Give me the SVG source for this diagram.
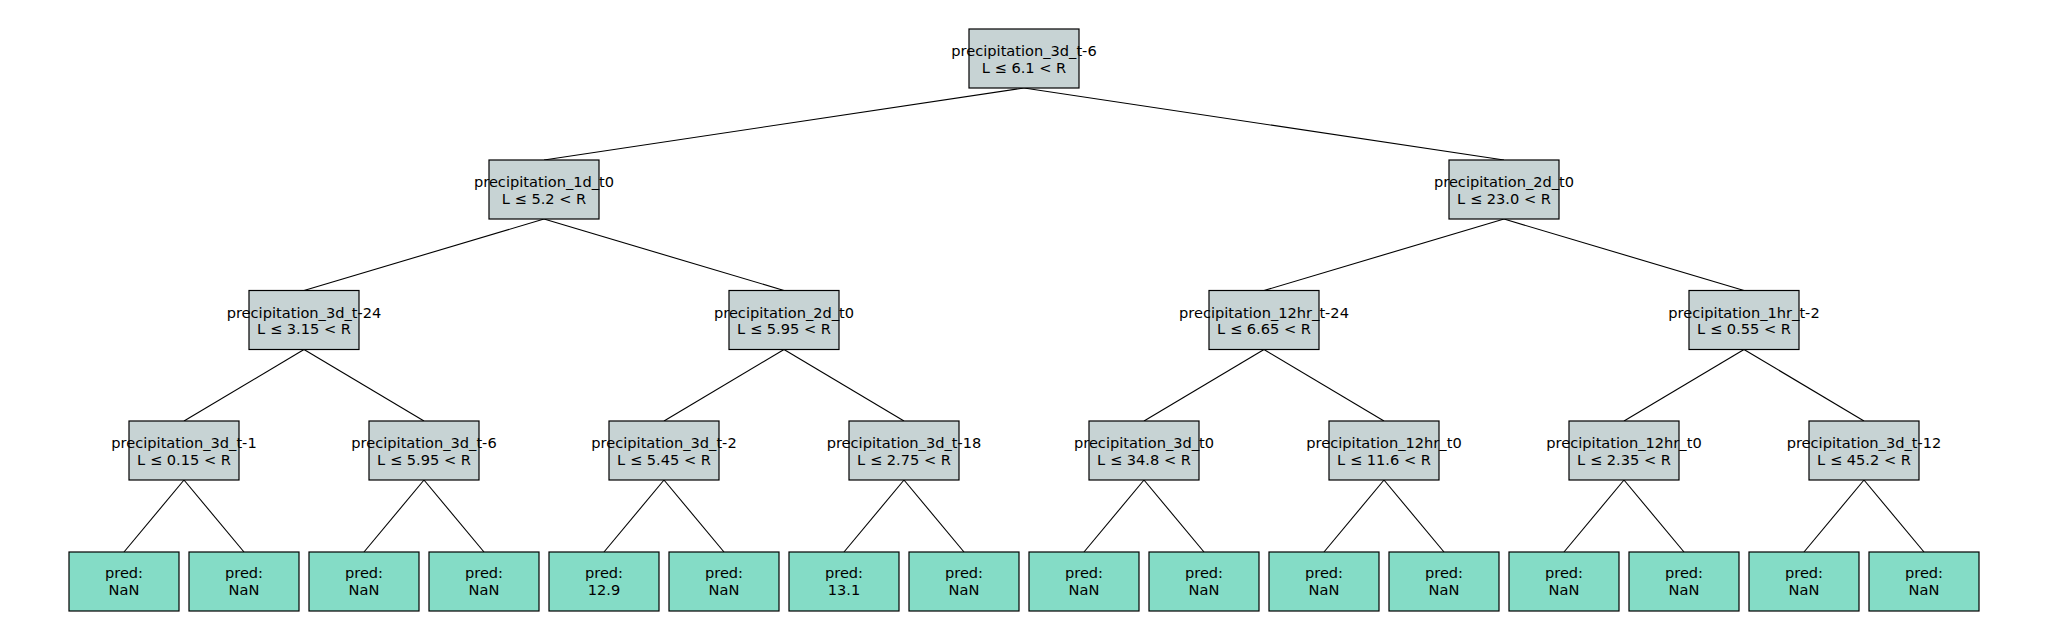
<svg xmlns="http://www.w3.org/2000/svg" width="2048" height="640" viewBox="0 0 2048 640">
<style>
.bg{fill:#ffffff}
.split rect{fill:#c7d3d4;stroke:#000000;stroke-width:1.2}
.leaf rect{fill:#84dcc6;stroke:#000000;stroke-width:1.2}
text{font-family:"DejaVu Sans",sans-serif;font-size:14.6px;fill:#000000;text-anchor:middle}
#edges line{stroke:#000000;stroke-width:1.1}
</style>
<rect class="bg" width="2048" height="640"/>
<g id="edges">
<line x1="1024" y1="88" x2="544" y2="160"/>
<line x1="1024" y1="88" x2="1504" y2="160"/>
<line x1="544" y1="219" x2="304" y2="290.5"/>
<line x1="544" y1="219" x2="784" y2="290.5"/>
<line x1="1504" y1="219" x2="1264" y2="290.5"/>
<line x1="1504" y1="219" x2="1744" y2="290.5"/>
<line x1="304" y1="349.5" x2="184" y2="421"/>
<line x1="304" y1="349.5" x2="424" y2="421"/>
<line x1="784" y1="349.5" x2="664" y2="421"/>
<line x1="784" y1="349.5" x2="904" y2="421"/>
<line x1="1264" y1="349.5" x2="1144" y2="421"/>
<line x1="1264" y1="349.5" x2="1384" y2="421"/>
<line x1="1744" y1="349.5" x2="1624" y2="421"/>
<line x1="1744" y1="349.5" x2="1864" y2="421"/>
<line x1="184" y1="480" x2="124" y2="552"/>
<line x1="184" y1="480" x2="244" y2="552"/>
<line x1="424" y1="480" x2="364" y2="552"/>
<line x1="424" y1="480" x2="484" y2="552"/>
<line x1="664" y1="480" x2="604" y2="552"/>
<line x1="664" y1="480" x2="724" y2="552"/>
<line x1="904" y1="480" x2="844" y2="552"/>
<line x1="904" y1="480" x2="964" y2="552"/>
<line x1="1144" y1="480" x2="1084" y2="552"/>
<line x1="1144" y1="480" x2="1204" y2="552"/>
<line x1="1384" y1="480" x2="1324" y2="552"/>
<line x1="1384" y1="480" x2="1444" y2="552"/>
<line x1="1624" y1="480" x2="1564" y2="552"/>
<line x1="1624" y1="480" x2="1684" y2="552"/>
<line x1="1864" y1="480" x2="1804" y2="552"/>
<line x1="1864" y1="480" x2="1924" y2="552"/>
</g>
<g id="n0" class="split"><rect x="969" y="29" width="110" height="59"/><text x="1024" y="56">precipitation_3d_t-6</text><text x="1024" y="72.5">L ≤ 6.1 &lt; R</text></g>
<g id="n1" class="split"><rect x="489" y="160" width="110" height="59"/><text x="544" y="187">precipitation_1d_t0</text><text x="544" y="203.5">L ≤ 5.2 &lt; R</text></g>
<g id="n2" class="split"><rect x="1449" y="160" width="110" height="59"/><text x="1504" y="187">precipitation_2d_t0</text><text x="1504" y="203.5">L ≤ 23.0 &lt; R</text></g>
<g id="n3" class="split"><rect x="249" y="290.5" width="110" height="59"/><text x="304" y="317.5">precipitation_3d_t-24</text><text x="304" y="334">L ≤ 3.15 &lt; R</text></g>
<g id="n4" class="split"><rect x="729" y="290.5" width="110" height="59"/><text x="784" y="317.5">precipitation_2d_t0</text><text x="784" y="334">L ≤ 5.95 &lt; R</text></g>
<g id="n5" class="split"><rect x="1209" y="290.5" width="110" height="59"/><text x="1264" y="317.5">precipitation_12hr_t-24</text><text x="1264" y="334">L ≤ 6.65 &lt; R</text></g>
<g id="n6" class="split"><rect x="1689" y="290.5" width="110" height="59"/><text x="1744" y="317.5">precipitation_1hr_t-2</text><text x="1744" y="334">L ≤ 0.55 &lt; R</text></g>
<g id="n7" class="split"><rect x="129" y="421" width="110" height="59"/><text x="184" y="448">precipitation_3d_t-1</text><text x="184" y="464.5">L ≤ 0.15 &lt; R</text></g>
<g id="n8" class="split"><rect x="369" y="421" width="110" height="59"/><text x="424" y="448">precipitation_3d_t-6</text><text x="424" y="464.5">L ≤ 5.95 &lt; R</text></g>
<g id="n9" class="split"><rect x="609" y="421" width="110" height="59"/><text x="664" y="448">precipitation_3d_t-2</text><text x="664" y="464.5">L ≤ 5.45 &lt; R</text></g>
<g id="n10" class="split"><rect x="849" y="421" width="110" height="59"/><text x="904" y="448">precipitation_3d_t-18</text><text x="904" y="464.5">L ≤ 2.75 &lt; R</text></g>
<g id="n11" class="split"><rect x="1089" y="421" width="110" height="59"/><text x="1144" y="448">precipitation_3d_t0</text><text x="1144" y="464.5">L ≤ 34.8 &lt; R</text></g>
<g id="n12" class="split"><rect x="1329" y="421" width="110" height="59"/><text x="1384" y="448">precipitation_12hr_t0</text><text x="1384" y="464.5">L ≤ 11.6 &lt; R</text></g>
<g id="n13" class="split"><rect x="1569" y="421" width="110" height="59"/><text x="1624" y="448">precipitation_12hr_t0</text><text x="1624" y="464.5">L ≤ 2.35 &lt; R</text></g>
<g id="n14" class="split"><rect x="1809" y="421" width="110" height="59"/><text x="1864" y="448">precipitation_3d_t-12</text><text x="1864" y="464.5">L ≤ 45.2 &lt; R</text></g>
<g id="l0" class="leaf"><rect x="69" y="552" width="110" height="59"/><text x="124" y="578">pred:</text><text x="124" y="594.5">NaN</text></g>
<g id="l1" class="leaf"><rect x="189" y="552" width="110" height="59"/><text x="244" y="578">pred:</text><text x="244" y="594.5">NaN</text></g>
<g id="l2" class="leaf"><rect x="309" y="552" width="110" height="59"/><text x="364" y="578">pred:</text><text x="364" y="594.5">NaN</text></g>
<g id="l3" class="leaf"><rect x="429" y="552" width="110" height="59"/><text x="484" y="578">pred:</text><text x="484" y="594.5">NaN</text></g>
<g id="l4" class="leaf"><rect x="549" y="552" width="110" height="59"/><text x="604" y="578">pred:</text><text x="604" y="594.5">12.9</text></g>
<g id="l5" class="leaf"><rect x="669" y="552" width="110" height="59"/><text x="724" y="578">pred:</text><text x="724" y="594.5">NaN</text></g>
<g id="l6" class="leaf"><rect x="789" y="552" width="110" height="59"/><text x="844" y="578">pred:</text><text x="844" y="594.5">13.1</text></g>
<g id="l7" class="leaf"><rect x="909" y="552" width="110" height="59"/><text x="964" y="578">pred:</text><text x="964" y="594.5">NaN</text></g>
<g id="l8" class="leaf"><rect x="1029" y="552" width="110" height="59"/><text x="1084" y="578">pred:</text><text x="1084" y="594.5">NaN</text></g>
<g id="l9" class="leaf"><rect x="1149" y="552" width="110" height="59"/><text x="1204" y="578">pred:</text><text x="1204" y="594.5">NaN</text></g>
<g id="l10" class="leaf"><rect x="1269" y="552" width="110" height="59"/><text x="1324" y="578">pred:</text><text x="1324" y="594.5">NaN</text></g>
<g id="l11" class="leaf"><rect x="1389" y="552" width="110" height="59"/><text x="1444" y="578">pred:</text><text x="1444" y="594.5">NaN</text></g>
<g id="l12" class="leaf"><rect x="1509" y="552" width="110" height="59"/><text x="1564" y="578">pred:</text><text x="1564" y="594.5">NaN</text></g>
<g id="l13" class="leaf"><rect x="1629" y="552" width="110" height="59"/><text x="1684" y="578">pred:</text><text x="1684" y="594.5">NaN</text></g>
<g id="l14" class="leaf"><rect x="1749" y="552" width="110" height="59"/><text x="1804" y="578">pred:</text><text x="1804" y="594.5">NaN</text></g>
<g id="l15" class="leaf"><rect x="1869" y="552" width="110" height="59"/><text x="1924" y="578">pred:</text><text x="1924" y="594.5">NaN</text></g>
</svg>
